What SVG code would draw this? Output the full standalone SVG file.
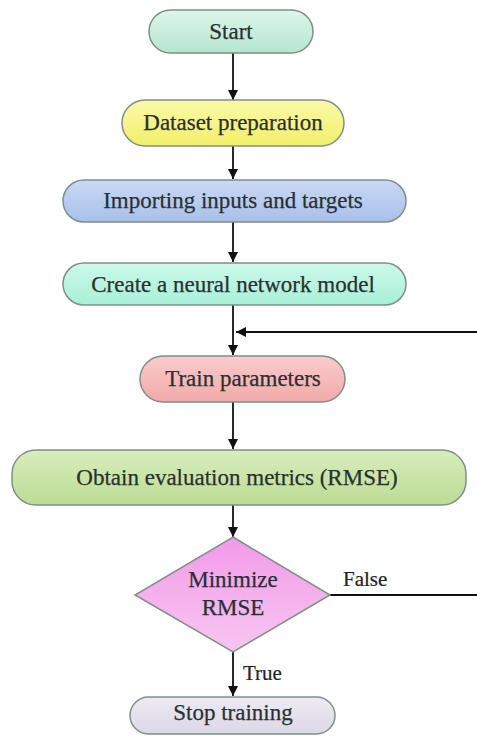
<svg xmlns="http://www.w3.org/2000/svg" width="477" height="737" viewBox="0 0 477 737">
<defs>
<style>
.t{font-family:"Liberation Serif","Times New Roman",serif;font-size:23px;fill:#2a3030;text-anchor:middle;stroke:#2a3030;stroke-width:0.25}
.l{font-family:"Liberation Serif","Times New Roman",serif;font-size:21px;fill:#222;stroke:#222;stroke-width:0.2}
.n{stroke:#7f8f89;stroke-width:1.5}
.c{stroke:#111;stroke-width:1.8;fill:none}
</style>
<linearGradient id="gS" x1="0" y1="0" x2="0" y2="1"><stop offset="0" stop-color="#dcf5ea"/><stop offset="1" stop-color="#b6e6d0"/></linearGradient>
<linearGradient id="gD" x1="0" y1="0" x2="0" y2="1"><stop offset="0" stop-color="#fbfaa8"/><stop offset="1" stop-color="#f2ef6a"/></linearGradient>
<linearGradient id="gI" x1="0" y1="0" x2="0" y2="1"><stop offset="0" stop-color="#c9d9f5"/><stop offset="1" stop-color="#a8c0ea"/></linearGradient>
<linearGradient id="gC" x1="0" y1="0" x2="0" y2="1"><stop offset="0" stop-color="#cbf9ea"/><stop offset="1" stop-color="#a8f0d8"/></linearGradient>
<linearGradient id="gT" x1="0" y1="0" x2="0" y2="1"><stop offset="0" stop-color="#f9cccc"/><stop offset="1" stop-color="#f2a9a9"/></linearGradient>
<linearGradient id="gO" x1="0" y1="0" x2="0" y2="1"><stop offset="0" stop-color="#d8edbc"/><stop offset="1" stop-color="#bcdc94"/></linearGradient>
<linearGradient id="gM" x1="0" y1="0" x2="0" y2="1"><stop offset="0" stop-color="#f29ae9"/><stop offset="1" stop-color="#f7c6f0"/></linearGradient>
<linearGradient id="gP" x1="0" y1="0" x2="0" y2="1"><stop offset="0" stop-color="#eceaf2"/><stop offset="1" stop-color="#dcd8e6"/></linearGradient>
<marker id="a" viewBox="0 0 10 10" refX="10" refY="5" markerWidth="11" markerHeight="10" orient="auto" markerUnits="userSpaceOnUse"><path d="M0,0 L10,5 L0,10 z" fill="#111"/></marker>
</defs>
<g id="connectors">
<line class="c" x1="233" y1="53" x2="233" y2="100" marker-end="url(#a)"/>
<line class="c" x1="233" y1="146" x2="233" y2="179" marker-end="url(#a)"/>
<line class="c" x1="233" y1="222" x2="233" y2="262" marker-end="url(#a)"/>
<line class="c" x1="233" y1="305" x2="233" y2="355" marker-end="url(#a)"/>
<polyline class="c" points="330,595 479,595 479,332 236,332" marker-end="url(#a)"/>
<line class="c" x1="233" y1="402" x2="233" y2="449" marker-end="url(#a)"/>
<line class="c" x1="233" y1="505" x2="233" y2="537" marker-end="url(#a)"/>
<line class="c" x1="233" y1="652" x2="233" y2="696" marker-end="url(#a)"/>
<text class="l" x="343" y="586">False</text>
<text class="l" x="243" y="680">True</text>
</g>
<g id="start"><rect class="n" x="149" y="10" width="164" height="43" rx="21.5" fill="url(#gS)"/><text class="t" x="231" y="39">Start</text></g>
<g id="dataset"><rect class="n" x="122" y="100" width="222" height="46" rx="23" fill="url(#gD)"/><text class="t" x="233" y="130">Dataset preparation</text></g>
<g id="importing"><rect class="n" x="63" y="180" width="343" height="42" rx="21" fill="url(#gI)"/><text class="t" x="233" y="208">Importing inputs and targets</text></g>
<g id="create"><rect class="n" x="63" y="263" width="343" height="42" rx="21" fill="url(#gC)"/><text class="t" x="233" y="292">Create a neural network model</text></g>
<g id="train"><rect class="n" x="140" y="356" width="205" height="46" rx="23" fill="url(#gT)"/><text class="t" x="243" y="386">Train parameters</text></g>
<g id="obtain"><rect class="n" x="12" y="450" width="454" height="55" rx="24" fill="url(#gO)"/><text class="t" x="237" y="485">Obtain evaluation metrics (RMSE)</text></g>
<g id="decision"><polygon class="n" points="233,537 330,595 233,652 135,595" fill="url(#gM)"/><text class="t" x="233" y="587">Minimize</text><text class="t" x="233" y="615">RMSE</text></g>
<g id="stop"><rect class="n" x="130" y="697" width="205" height="37" rx="18.5" fill="url(#gP)"/><text class="t" x="233" y="720">Stop training</text></g>
</svg>
